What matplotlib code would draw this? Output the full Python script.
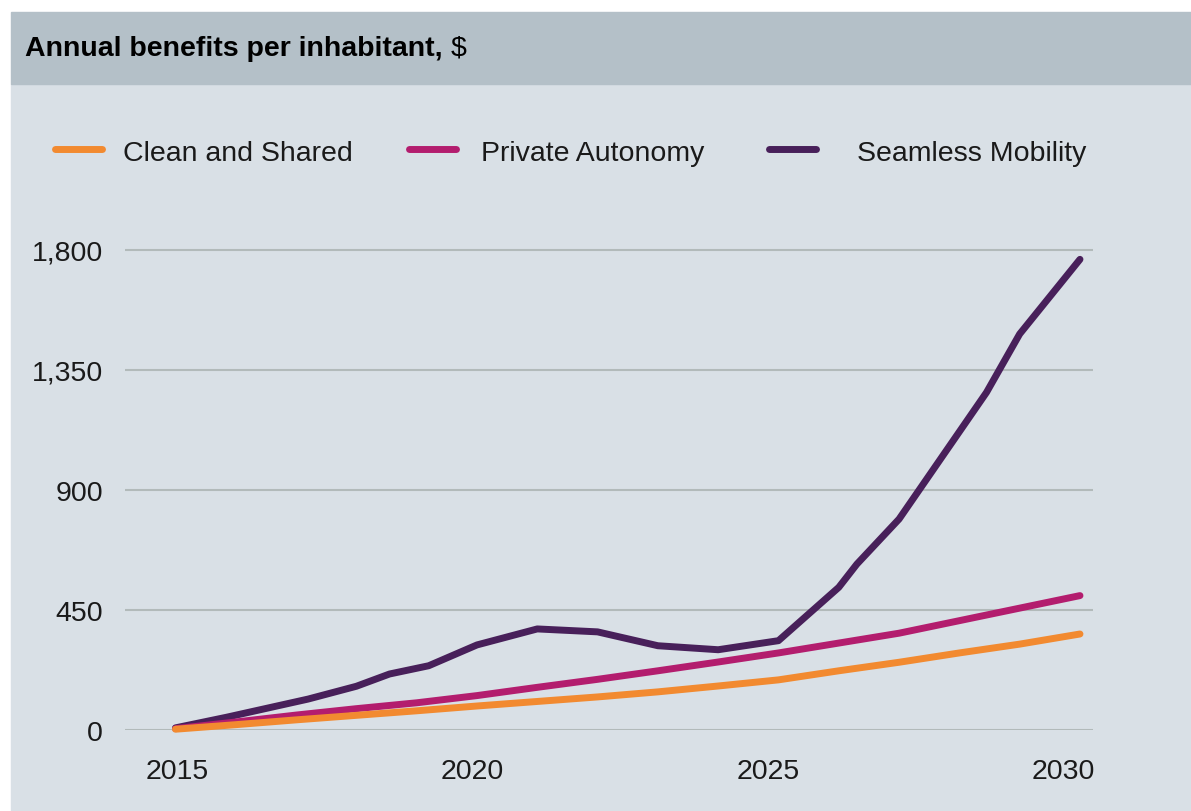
import numpy as np
import matplotlib
matplotlib.use("Agg")
import matplotlib.pyplot as plt
import matplotlib.transforms as mtransforms
from matplotlib.lines import Line2D
from matplotlib.patches import Rectangle

# data
years = [2015, 2016, 2017, 2018, 2019, 2020, 2021, 2022,
         2023, 2024, 2025, 2026, 2027, 2028, 2029, 2030]
clean_shared = [3, 20, 38, 55, 72, 90, 107, 124,
                143, 165, 188, 222, 254, 289, 322, 360]
private_autonomy = [5, 30, 56, 80, 102, 129, 160, 190,
                    222, 255, 289, 326, 363, 410, 457, 504]
seamless_years = [2015, 2015.85, 2017.2, 2018, 2018.55, 2019.2, 2020, 2021,
                  2022, 2023, 2024, 2025, 2026, 2026.3, 2027, 2028.45, 2029, 2030]
seamless_mobility = [8, 48, 116, 164, 210, 241, 319, 379,
                     368, 316, 301, 335, 535, 622, 791, 1266, 1485, 1765]

y_ticks = [0, 450, 900, 1350, 1800]
x_ticks = [2015, 2020, 2025, 2030]
labels = ["Clean and Shared", "Private Autonomy", "Seamless Mobility"]

# colours
orange = '#f28a30'
magenta = '#b31d6e'
purple = '#48205a'
panel = '#d9e0e6'
header = '#b4c0c8'
gridc = '#b2baba'
txt = '#1a1a1a'

plt.rcParams['font.family'] = ['Liberation Sans', 'DejaVu Sans']
fs = 20.5

W, H = 1191, 812
fig = plt.figure(figsize=(W / 100, H / 100), dpi=100)
fig.patch.set_facecolor('white')

# background panels (pixel -> figure fraction)
fig.patches.append(Rectangle((11 / W, 0), 1 - 11 / W, (H - 85) / H,
                             transform=fig.transFigure, color=panel, zorder=-10))
fig.patches.append(Rectangle((11 / W, (H - 85) / H), 1 - 11 / W, 72 / H,
                             transform=fig.transFigure, color=header, zorder=-10))

# header title: bold part + regular "$"
t = fig.text(25 / W, 1 - 56 / H, "Annual benefits per inhabitant,", fontsize=fs,
             fontweight='bold', color='black', va='baseline', ha='left')
fig.canvas.draw()
bb = t.get_window_extent()
fig.text(bb.x1 / W + 8 / W, 1 - 56 / H, "$", fontsize=fs, color='black',
         va='baseline', ha='left')

# axes
px_per_unit = 120 / 450
ymax = 1850
ax = fig.add_axes([125 / W, (H - 731) / H, 968 / W, ymax * px_per_unit / H])
ax.set_facecolor('none')
ax.set_xlim(2014.163, 2030.216)
ax.set_ylim(0, ymax)

ax.plot(years, clean_shared, color=orange, lw=5, solid_capstyle='round',
        solid_joinstyle='round', clip_on=False, zorder=3)
ax.plot(years, private_autonomy, color=magenta, lw=5, solid_capstyle='round',
        solid_joinstyle='round', clip_on=False, zorder=2)
ax.plot(seamless_years, seamless_mobility, color=purple, lw=5, solid_capstyle='round',
        solid_joinstyle='round', clip_on=False, zorder=1)

ax.set_yticks(y_ticks)
ax.set_yticklabels([f"{v:,}" for v in y_ticks])
ax.set_xticks(x_ticks)
ax.set_xticklabels([str(v) for v in x_ticks])
ax.yaxis.grid(True, color=gridc, lw=1.5)
ax.set_axisbelow(True)
for s in ax.spines.values():
    s.set_visible(False)
ax.tick_params(axis='both', length=0, labelsize=fs, labelcolor=txt)
ax.tick_params(axis='y', pad=16)
ax.tick_params(axis='x', pad=20)

# the year labels in the original sit on a slightly tighter spacing than the lines
for lab, yr in zip(ax.get_xticklabels(), x_ticks):
    shift = (1.5 - (yr - 2015) * 1.2) / 100
    lab.set_transform(lab.get_transform() +
                      mtransforms.ScaledTranslation(shift, 0, fig.dpi_scale_trans))

# legend drawn by hand to keep the uneven spacing
handle_x = [(55, 102), (409, 456), (769, 816)]
text_x = [123, 481, 857]
for (x0, x1), tx, lab, c in zip(handle_x, text_x, labels, [orange, magenta, purple]):
    fig.add_artist(Line2D([x0 / W, x1 / W], [1 - 150 / H, 1 - 150 / H], color=c,
                          lw=5, solid_capstyle='round', transform=fig.transFigure))
    fig.text(tx / W, 1 - 161 / H, lab, fontsize=fs, color=txt, va='baseline', ha='left')

fig.savefig('out.png', dpi=100)
